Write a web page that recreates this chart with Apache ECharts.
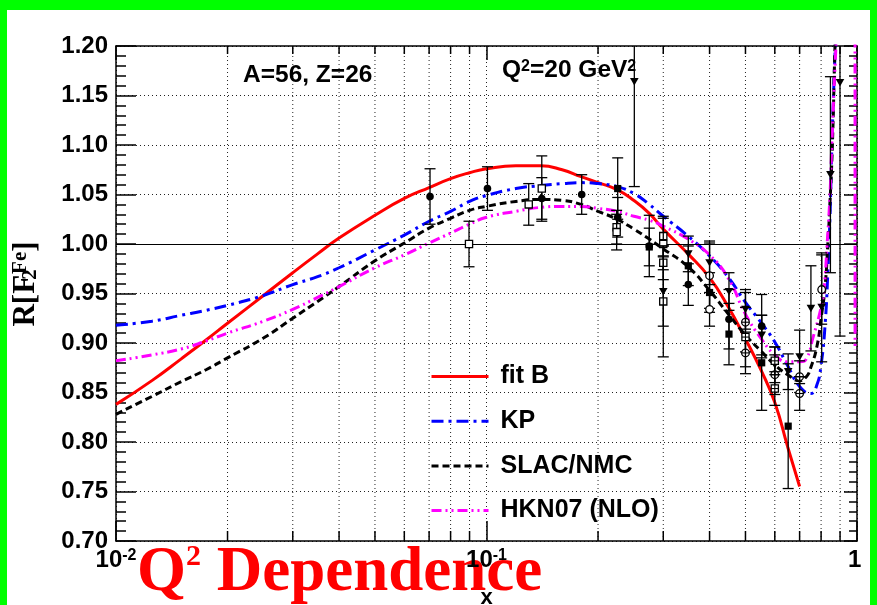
<!DOCTYPE html>
<html>
<head>
<meta charset="utf-8">
<script src="https://cdn.jsdelivr.net/npm/echarts@6/dist/echarts.min.js"></script>
<style>
  html, body { margin: 0; padding: 0; width: 877px; height: 605px; overflow: hidden; background: #00ff00; }
  #chart { position: absolute; left: 7px; top: 10px; width: 863px; height: 595px; background: #ffffff; }
</style>
</head>
<body>
<div id="chart"></div>
<script>
// Nuclear ratio R[F2] for iron versus Bjorken x, four model curves and data with errors.

// ---- model curves: [x, ratio] ----
const fitB = [
  [0.0100, 0.838], [0.0125, 0.862], [0.0150, 0.884], [0.0175, 0.903], [0.0200, 0.920],
  [0.0250, 0.948], [0.0300, 0.971], [0.0350, 0.990], [0.0400, 1.006], [0.0500, 1.029],
  [0.0600, 1.046], [0.0700, 1.057], [0.0800, 1.066], [0.0900, 1.072], [0.1000, 1.076],
  [0.1200, 1.079], [0.1400, 1.079], [0.1600, 1.075], [0.1800, 1.068], [0.2000, 1.062],
  [0.2250, 1.055], [0.2500, 1.044], [0.2750, 1.031], [0.3000, 1.015], [0.3500, 0.990],
  [0.4000, 0.966], [0.4500, 0.936], [0.5000, 0.904], [0.5500, 0.873], [0.6000, 0.840],
  [0.6500, 0.795], [0.7000, 0.755]
];
const kp = [
  [0.0100, 0.918], [0.0125, 0.922], [0.0150, 0.928], [0.0175, 0.933], [0.0200, 0.938],
  [0.0250, 0.948], [0.0300, 0.959], [0.0350, 0.967], [0.0400, 0.976], [0.0500, 0.994],
  [0.0600, 1.009], [0.0700, 1.023], [0.0800, 1.033], [0.0900, 1.043], [0.1000, 1.049],
  [0.1200, 1.056], [0.1400, 1.059], [0.1600, 1.061], [0.1800, 1.062], [0.2000, 1.061],
  [0.2250, 1.058], [0.2500, 1.051], [0.2750, 1.040], [0.3000, 1.028], [0.3500, 1.008],
  [0.4000, 0.988], [0.4500, 0.966], [0.5000, 0.941], [0.5500, 0.921], [0.6000, 0.901],
  [0.6500, 0.877], [0.7000, 0.856], [0.7500, 0.849], [0.7800, 0.858], [0.8000, 0.878],
  [0.8200, 0.918], [0.8350, 0.975], [0.8450, 1.025], [0.8550, 1.095], [0.8650, 1.155],
  [0.8750, 1.205], [0.8850, 1.250]
];
const slacNmc = [
  [0.0100, 0.828], [0.0125, 0.846], [0.0150, 0.861], [0.0175, 0.873], [0.0200, 0.885],
  [0.0250, 0.905], [0.0300, 0.925], [0.0350, 0.942], [0.0400, 0.957], [0.0500, 0.983],
  [0.0600, 1.001], [0.0700, 1.016], [0.0800, 1.026], [0.0900, 1.034], [0.1000, 1.038],
  [0.1200, 1.043], [0.1400, 1.045], [0.1600, 1.044], [0.1800, 1.040], [0.2000, 1.033],
  [0.2250, 1.025], [0.2500, 1.015], [0.2750, 1.005], [0.3000, 0.995], [0.3500, 0.977],
  [0.4000, 0.953], [0.4500, 0.929], [0.5000, 0.908], [0.5500, 0.892], [0.6000, 0.878],
  [0.6500, 0.868], [0.7000, 0.862], [0.7300, 0.866], [0.7500, 0.875], [0.7800, 0.897],
  [0.8000, 0.925], [0.8200, 0.957], [0.8350, 1.003], [0.8450, 1.040], [0.8580, 1.099],
  [0.8700, 1.185], [0.8800, 1.250]
];
const hkn07 = [
  [0.0100, 0.882], [0.0125, 0.888], [0.0150, 0.894], [0.0175, 0.902], [0.0200, 0.910],
  [0.0250, 0.922], [0.0300, 0.934], [0.0350, 0.946], [0.0400, 0.957], [0.0500, 0.976],
  [0.0600, 0.989], [0.0700, 1.001], [0.0800, 1.011], [0.0900, 1.020], [0.1000, 1.027],
  [0.1200, 1.033], [0.1400, 1.037], [0.1600, 1.038], [0.1800, 1.038], [0.2000, 1.036],
  [0.2250, 1.033], [0.2500, 1.028], [0.2750, 1.024], [0.3000, 1.018], [0.3500, 1.005],
  [0.4000, 0.989], [0.4500, 0.965], [0.5000, 0.929], [0.5500, 0.905], [0.6000, 0.888],
  [0.6500, 0.881], [0.7000, 0.881], [0.7300, 0.884], [0.7600, 0.905], [0.8000, 0.936],
  [0.8150, 0.955], [0.8300, 0.998], [0.8450, 1.048], [0.8550, 1.100], [0.8720, 1.177],
  [0.9000, 1.280], [0.9600, 1.400], [0.9870, 1.420], [0.9880, 0.893]
];

// ---- data points: [x, ratio, error] by marker kind ----
const ptsFilledCircle = [
  [0.0704, 1.048, 0.028], [0.1006, 1.056, 0.022], [0.1410, 1.046, 0.021], [0.1807, 1.050, 0.020],
  [0.2260, 1.027, 0.020], [0.2750, 0.998, 0.031], [0.3505, 0.959, 0.021], [0.4513, 0.924, 0.030],
  [0.5530, 0.917, 0.032]
];
const ptsOpenSquare = [
  [0.0897, 1.000, 0.023], [0.1300, 1.040, 0.021], [0.1410, 1.056, 0.033], [0.2245, 1.017, 0.017],
  [0.2245, 1.012, 0.018], [0.3000, 1.008, 0.020], [0.3000, 1.000, 0.026], [0.3000, 0.981, 0.017],
  [0.3000, 0.942, 0.056]
];
const ptsFilledSquare = [
  [0.2260, 1.056, 0.031], [0.2750, 0.997, 0.019], [0.3505, 0.978, 0.020], [0.4000, 0.951, 0.020],
  [0.4513, 0.909, 0.031], [0.5530, 0.880, 0.048], [0.6520, 0.816, 0.063]
];
const ptsOpenCircle = [
  [0.4000, 0.968, 0.033], [0.4000, 0.934, 0.017], [0.8029, 0.954, 0.035]
];
const ptsTriangle = [
  [0.2506, 1.164, 0.106], [0.3000, 0.952, 0.035], [0.3505, 0.990, 0.018], [0.4000, 0.981, 0.022],
  [0.4513, 0.952, 0.019], [0.5000, 0.934, 0.020], [0.5530, 0.908, 0.020], [0.6000, 0.878, 0.018],
  [0.6520, 0.871, 0.018], [0.7000, 0.886, 0.027], [0.7510, 0.935, 0.043], [0.8029, 0.936, 0.055],
  [0.8477, 1.070, 0.099], [0.8997, 1.163, 0.256]
];
const ptsCircleCross = [
  [0.5000, 0.921, 0.030], [0.5000, 0.890, 0.021], [0.6000, 0.868, 0.020], [0.7000, 0.866, 0.016],
  [0.7000, 0.849, 0.017]
];
const ptsSquareCross = [
  [0.5000, 0.906, 0.030], [0.6000, 0.882, 0.014], [0.6000, 0.854, 0.017]
];

// ---- axes ----
const xRange = [0.01, 1];
const yRange = [0.70, 1.20];
const yStep = 0.05;
const xMinorTicks = [0.02, 0.03, 0.04, 0.05, 0.06, 0.07, 0.08, 0.09,
                     0.2, 0.3, 0.4, 0.5, 0.6, 0.7, 0.8, 0.9];
const legendNames = ['fit B', 'KP', 'SLAC/NMC', 'HKN07 (NLO)'];

const SANS = '"Liberation Sans", Arial, Helvetica, sans-serif';
const SERIF = '"Liberation Serif", "Times New Roman", serif';

function logLabel(v) {
  const e = Math.round(Math.log10(v));
  if (e === 0) return '{b|1}{s| }';
  return '{b|10}{s|' + e + '}';
}

function frameLine(show) {
  return { show: show, onZero: false, lineStyle: { color: '#000', width: 1.5 } };
}

// dotted vertical grid plus short ticks at the non-decade x positions
function renderMinorX(params, api) {
  const x = api.value(0);
  const b = api.coord([x, yRange[0]]);
  const t = api.coord([x, yRange[1]]);
  const tick = { stroke: '#000', lineWidth: 1.5 };
  return {
    type: 'group',
    children: [
      { type: 'line', shape: { x1: b[0], y1: b[1], x2: t[0], y2: t[1] },
        style: { stroke: '#222', lineWidth: 1, lineDash: [1, 3] } },
      { type: 'line', shape: { x1: b[0], y1: b[1], x2: b[0], y2: b[1] - 10 }, style: tick },
      { type: 'line', shape: { x1: t[0], y1: t[1], x2: t[0], y2: t[1] + 8 }, style: tick }
    ]
  };
}

function markerShapes(kind, c) {
  const r = 3.8, h = 3.6;
  const open = { fill: '#fff', stroke: '#000', lineWidth: 1.3 };
  const solid = { fill: '#000' };
  const ln = { stroke: '#000', lineWidth: 1.1 };
  switch (kind) {
    case 'fc': return [{ type: 'circle', shape: { cx: c[0], cy: c[1], r: r }, style: solid }];
    case 'oc': return [{ type: 'circle', shape: { cx: c[0], cy: c[1], r: r }, style: open }];
    case 'fs': return [{ type: 'rect', shape: { x: c[0] - h, y: c[1] - h, width: 2 * h, height: 2 * h }, style: solid }];
    case 'os': return [{ type: 'rect', shape: { x: c[0] - h, y: c[1] - h, width: 2 * h, height: 2 * h }, style: open }];
    case 'td': return [{ type: 'polygon', shape: { points: [[c[0] - 4.3, c[1] - 3.6], [c[0] + 4.3, c[1] - 3.6], [c[0], c[1] + 3.8]] }, style: solid }];
    case 'cx': return [
      { type: 'circle', shape: { cx: c[0], cy: c[1], r: r }, style: open },
      { type: 'line', shape: { x1: c[0] - r, y1: c[1], x2: c[0] + r, y2: c[1] }, style: ln },
      { type: 'line', shape: { x1: c[0], y1: c[1] - r, x2: c[0], y2: c[1] + r }, style: ln }
    ];
    case 'sx': return [
      { type: 'rect', shape: { x: c[0] - h, y: c[1] - h, width: 2 * h, height: 2 * h }, style: open },
      { type: 'line', shape: { x1: c[0] - h, y1: c[1], x2: c[0] + h, y2: c[1] }, style: ln },
      { type: 'line', shape: { x1: c[0], y1: c[1] - h, x2: c[0], y2: c[1] + h }, style: ln }
    ];
  }
  return [];
}

function pointRenderer(kind) {
  return function (params, api) {
    const x = api.value(0), y = api.value(1), e = api.value(2);
    const c = api.coord([x, y]);
    const hi = api.coord([x, y + e]);
    const lo = api.coord([x, y - e]);
    const st = { stroke: '#000', lineWidth: 1.3 };
    const cap = 5.5;
    const children = [
      { type: 'line', shape: { x1: c[0], y1: hi[1], x2: c[0], y2: lo[1] }, style: st },
      { type: 'line', shape: { x1: c[0] - cap, y1: hi[1], x2: c[0] + cap, y2: hi[1] }, style: st },
      { type: 'line', shape: { x1: c[0] - cap, y1: lo[1], x2: c[0] + cap, y2: lo[1] }, style: st }
    ].concat(markerShapes(kind, c));
    return { type: 'group', children: children };
  };
}

function pointSeries(name, kind, data) {
  return {
    name: name, type: 'custom', z: 5, clip: true, silent: true,
    dimensions: ['x', 'y', 'err'], encode: { x: 0, y: 1 },
    renderItem: pointRenderer(kind), data: data
  };
}

function curveSeries(name, data, color, dash) {
  return {
    name: name, type: 'line', data: data, z: 4, clip: true, silent: true,
    symbol: 'none', showSymbol: false, smooth: 0.5,
    lineStyle: { color: color, width: 3, type: dash, cap: 'butt' },
    itemStyle: { color: color },
    emphasis: { disabled: true }
  };
}

const chart = echarts.init(document.getElementById('chart'), null, { renderer: 'canvas' });

const option = {
  animation: false,
  backgroundColor: '#ffffff',
  textStyle: { fontFamily: SANS },
  grid: { left: 109, top: 36, right: 13, bottom: 64, outerBoundsMode: 'none' },
  legend: {
    data: legendNames, orient: 'vertical', left: 423, top: 354, padding: 0,
    itemWidth: 57, itemHeight: 25, itemGap: 19.7, selectedMode: false,
    lineStyle: { width: 3 },
    itemStyle: { color: 'rgba(0,0,0,0)', borderColor: 'rgba(0,0,0,0)', borderWidth: 0 },
    textStyle: { fontSize: 25, fontWeight: 'bold', fontFamily: SANS, color: '#000', padding: [0, 0, 0, 7] }
  },
  xAxis: [
    {
      type: 'log', logBase: 10, min: xRange[0], max: xRange[1], position: 'bottom',
      axisLine: frameLine(true),
      axisTick: { show: true, inside: true, length: 20, lineStyle: { color: '#000', width: 1.5 } },
      axisLabel: {
        margin: 7, formatter: logLabel, color: '#000',
        rich: {
          b: { fontSize: 24, fontWeight: 'bold', fontFamily: SANS, color: '#000', lineHeight: 24, verticalAlign: 'bottom' },
          s: { fontSize: 16, fontWeight: 'bold', fontFamily: SANS, color: '#000', lineHeight: 16, verticalAlign: 'top', padding: [0, 0, 12, 0] }
        }
      },
      splitLine: { show: true, lineStyle: { color: '#222', width: 1, type: [1, 3] } },
      name: 'x', nameLocation: 'middle', nameGap: 46,
      nameTextStyle: { fontSize: 22, fontWeight: 'bold', fontFamily: SANS, color: '#000' }
    },
    {
      type: 'log', logBase: 10, min: xRange[0], max: xRange[1], position: 'top',
      axisLine: frameLine(true),
      axisTick: { show: true, inside: true, length: 14, lineStyle: { color: '#000', width: 1.5 } },
      axisLabel: { show: false }, splitLine: { show: false }
    }
  ],
  yAxis: [
    {
      type: 'value', min: yRange[0], max: yRange[1], interval: yStep, position: 'left',
      axisLine: frameLine(true),
      axisTick: { show: true, inside: true, length: 20, lineStyle: { color: '#000', width: 1.5 } },
      minorTick: { show: true, splitNumber: 5, length: 10, lineStyle: { color: '#000', width: 1.5 } },
      axisLabel: {
        margin: 8, fontSize: 24, fontWeight: 'bold', fontFamily: SANS, color: '#000',
        formatter: function (v) { return v.toFixed(2); }
      },
      splitLine: { show: true, lineStyle: { color: '#222', width: 1, type: [1, 3] } },
      minorSplitLine: { show: false }
    },
    {
      type: 'value', min: yRange[0], max: yRange[1], interval: yStep, position: 'right',
      axisLine: frameLine(true),
      axisTick: { show: true, inside: true, length: 13, lineStyle: { color: '#000', width: 1.5 } },
      minorTick: { show: true, splitNumber: 5, length: 8, lineStyle: { color: '#000', width: 1.5 } },
      axisLabel: { show: false }, splitLine: { show: false }
    }
  ],
  graphic: {
    elements: [
      {
        type: 'text', z: -5, x: 130, y: 532, silent: true,
        style: {
          text: '{q|Q}{s|2}{q| Dependence}',
          align: 'left', verticalAlign: 'top', textAlign: 'left', textVerticalAlign: 'top',
          rich: {
            q: { fontSize: 63, fontWeight: 'bold', fontFamily: SERIF, fill: '#ff0000', color: '#ff0000', lineHeight: 63, verticalAlign: 'bottom' },
            s: { fontSize: 30, fontWeight: 'bold', fontFamily: SERIF, fill: '#ff0000', color: '#ff0000', lineHeight: 30, verticalAlign: 'top' }
          }
        }
      },
      {
        type: 'text', z: 10, x: 236, y: 65.5, silent: true,
        style: {
          text: 'A=56, Z=26', fill: '#000', fontSize: 24.5, fontWeight: 'bold', fontFamily: SANS,
          align: 'left', verticalAlign: 'middle', textAlign: 'left', textVerticalAlign: 'middle'
        }
      },
      {
        type: 'text', z: 10, x: 495, y: 49, silent: true,
        style: {
          text: '{m|Q}{s|2}{m|=20 GeV}{s|2}',
          align: 'left', verticalAlign: 'top', textAlign: 'left', textVerticalAlign: 'top',
          rich: {
            m: { fontSize: 24.5, fontWeight: 'bold', fontFamily: SANS, fill: '#000', color: '#000', lineHeight: 24, verticalAlign: 'bottom' },
            s: { fontSize: 16, fontWeight: 'bold', fontFamily: SANS, fill: '#000', color: '#000', lineHeight: 16, verticalAlign: 'top', padding: [0, 0, 12, 0] }
          }
        }
      },
      {
        type: 'text', z: 10, x: 19, y: 274, rotation: Math.PI / 2, silent: true,
        style: {
          text: '{m|R[F}{b|2}{t|Fe}{m|]}',
          align: 'center', verticalAlign: 'middle', textAlign: 'center', textVerticalAlign: 'middle',
          rich: {
            m: { fontSize: 31, fontWeight: 'bold', fontFamily: SERIF, fill: '#000', color: '#000', lineHeight: 31 },
            t: { fontSize: 21, fontWeight: 'bold', fontFamily: SERIF, fill: '#000', color: '#000', lineHeight: 21, verticalAlign: 'top' },
            b: { fontSize: 21, fontWeight: 'bold', fontFamily: SERIF, fill: '#000', color: '#000', lineHeight: 21, verticalAlign: 'bottom', width: 1 }
          }
        }
      }
    ]
  },
  series: [
    {
      name: 'grid-x', type: 'custom', z: 1, silent: true, clip: false,
      encode: { x: 0 }, renderItem: renderMinorX,
      data: xMinorTicks.map(function (v) { return [v]; })
    },
    Object.assign(curveSeries('fit B', fitB, '#ff0000', 'solid'), {
      markLine: {
        silent: true, symbol: ['none', 'none'], label: { show: false },
        lineStyle: { color: '#000', width: 1.2, type: 'solid' },
        data: [{ yAxis: 1.0 }]
      }
    }),
    curveSeries('KP', kp, '#0000ff', [12, 5, 3, 5]),
    curveSeries('SLAC/NMC', slacNmc, '#000000', [7, 4]),
    curveSeries('HKN07 (NLO)', hkn07, '#ff00ff', [10, 4, 2, 4, 2, 4]),
    pointSeries('filled circles', 'fc', ptsFilledCircle),
    pointSeries('open squares', 'os', ptsOpenSquare),
    pointSeries('filled squares', 'fs', ptsFilledSquare),
    pointSeries('open circles', 'oc', ptsOpenCircle),
    pointSeries('triangles', 'td', ptsTriangle),
    pointSeries('crossed circles', 'cx', ptsCircleCross),
    pointSeries('crossed squares', 'sx', ptsSquareCross)
  ]
};

chart.setOption(option);
</script>
</body>
</html>
